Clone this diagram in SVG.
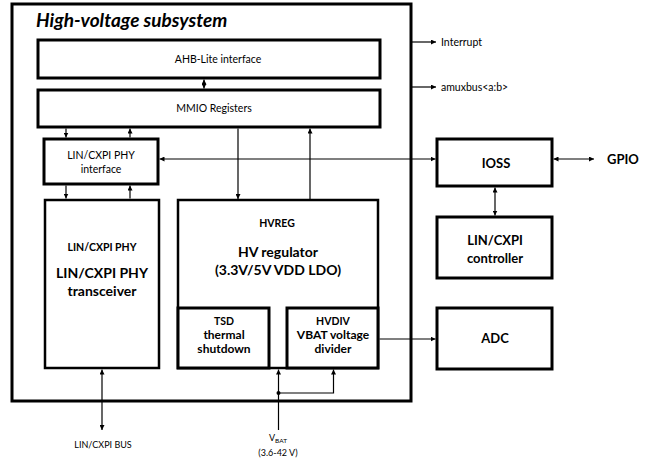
<svg xmlns="http://www.w3.org/2000/svg" width="664" height="461" viewBox="0 0 664 461">
<style>
.box{fill:#fff;stroke:#000;stroke-width:3}
.thin{fill:none;stroke:#000;stroke-width:2.5}
.ln{fill:none;stroke:#000;stroke-width:1.2}
text{font-family:Lato,"Liberation Sans",sans-serif;fill:#000;text-anchor:middle}
.s{font-size:10.5px}
.b{font-weight:bold}
.m{font-size:14px;font-weight:bold}
.n{font-size:12px;font-weight:bold}
.r{font-size:13px;font-weight:bold}
</style>
<defs>
<marker id="ah" viewBox="0 0 10 10" refX="10" refY="5" markerWidth="5" markerHeight="5" markerUnits="userSpaceOnUse" orient="auto-start-reverse">
<path d="M0,0 L10,5 L0,10 z" fill="#000"/>
</marker>
</defs>
<rect width="664" height="461" fill="#fff"/>
<g id="subsystem">
<rect x="12" y="4" width="399" height="397" fill="none" stroke="#000" stroke-width="3"/>
<text x="36" y="27" style="font-size:19px;font-weight:bold;font-style:italic;text-anchor:start">High-voltage subsystem</text>
</g>
<g id="ahb">
<rect class="box" x="38" y="40" width="342" height="38"/>
<text class="s" x="218" y="63">AHB-Lite interface</text>
</g>
<g id="mmio">
<rect class="box" x="38" y="90" width="342" height="37"/>
<text class="s" x="214" y="112">MMIO Registers</text>
</g>
<g id="phyif">
<rect class="box" x="44" y="139" width="114" height="45"/>
<text class="s" x="101" y="159">LIN/CXPI PHY</text>
<text class="s" x="101" y="173">interface</text>
</g>
<g id="transceiver">
<rect class="thin" x="45" y="200" width="114" height="168"/>
<text class="s b" x="102" y="251">LIN/CXPI PHY</text>
<text class="m" x="102" y="278">LIN/CXPI PHY</text>
<text class="m" x="102" y="296">transceiver</text>
</g>
<g id="hvreg">
<rect class="thin" x="178" y="200" width="200" height="168"/>
<text class="s b" x="277" y="227">HVREG</text>
<text class="m" x="278" y="257">HV regulator</text>
<text class="m" x="278" y="275">(3.3V/5V VDD LDO)</text>
</g>
<g id="tsd">
<rect class="box" x="178" y="308" width="91" height="60"/>
<text class="s b" x="224" y="325">TSD</text>
<text class="n" x="224" y="339">thermal</text>
<text class="n" x="224" y="353">shutdown</text>
</g>
<g id="hvdiv">
<rect class="box" x="287" y="308" width="91" height="60"/>
<text class="s b" x="333" y="325">HVDIV</text>
<text class="n" x="333" y="339">VBAT voltage</text>
<text class="n" x="333" y="353">divider</text>
</g>
<g id="ioss">
<rect class="box" x="437" y="139" width="115" height="47"/>
<text class="r" x="496" y="168">IOSS</text>
</g>
<g id="controller">
<rect class="box" x="437" y="217" width="115" height="61"/>
<text class="r" x="495" y="245">LIN/CXPI</text>
<text class="r" x="495" y="263">controller</text>
</g>
<g id="adc">
<rect class="box" x="437" y="308" width="115" height="61"/>
<text class="r" x="495" y="343">ADC</text>
</g>
<g id="labels">
<text class="s" x="441" y="46" style="text-anchor:start">Interrupt</text>
<text class="s" x="441" y="91" style="text-anchor:start">amuxbus&lt;a:b&gt;</text>
<text class="r" x="607" y="164" style="text-anchor:start">GPIO</text>
<text x="103" y="448" style="font-size:9px">LIN/CXPI BUS</text>
<text x="278" y="441" style="font-size:9px">V<tspan style="font-size:6.5px" dy="2">BAT</tspan></text>
<text x="278" y="456" style="font-size:9px">(3.6-42 V)</text>
</g>
<g id="connectors">
<line class="ln" x1="204" y1="79.5" x2="204" y2="88.5" marker-start="url(#ah)" marker-end="url(#ah)"/>
<line class="ln" x1="66" y1="128.5" x2="66" y2="137.5" marker-end="url(#ah)"/>
<line class="ln" x1="130" y1="137.5" x2="130" y2="128.5" marker-end="url(#ah)"/>
<line class="ln" x1="66" y1="185.5" x2="66" y2="198.5" marker-end="url(#ah)"/>
<line class="ln" x1="130" y1="198.5" x2="130" y2="185.5" marker-end="url(#ah)"/>
<line class="ln" x1="238" y1="128.5" x2="238" y2="199" marker-end="url(#ah)"/>
<line class="ln" x1="310" y1="199" x2="310" y2="128.5" marker-end="url(#ah)"/>
<line class="ln" x1="159.5" y1="159" x2="435.5" y2="159" marker-start="url(#ah)" marker-end="url(#ah)"/>
<line class="ln" x1="553.5" y1="159" x2="594" y2="159" marker-start="url(#ah)" marker-end="url(#ah)"/>
<line class="ln" x1="495" y1="187.5" x2="495" y2="215.5" marker-start="url(#ah)" marker-end="url(#ah)"/>
<line class="ln" x1="379.5" y1="339" x2="435.5" y2="339" marker-end="url(#ah)"/>
<line class="ln" x1="411" y1="42" x2="436" y2="42" marker-end="url(#ah)"/>
<line class="ln" x1="411" y1="87" x2="436" y2="87" marker-end="url(#ah)"/>
<line class="ln" x1="102" y1="369.5" x2="102" y2="430" marker-start="url(#ah)" marker-end="url(#ah)"/>
<line class="ln" x1="278.5" y1="430" x2="278.5" y2="369.5" marker-end="url(#ah)"/>
<polyline class="ln" points="278.5,393 333.5,393 333.5,369.5" marker-end="url(#ah)"/>
<circle cx="278.5" cy="393" r="2" fill="#000"/>
</g>
</svg>
